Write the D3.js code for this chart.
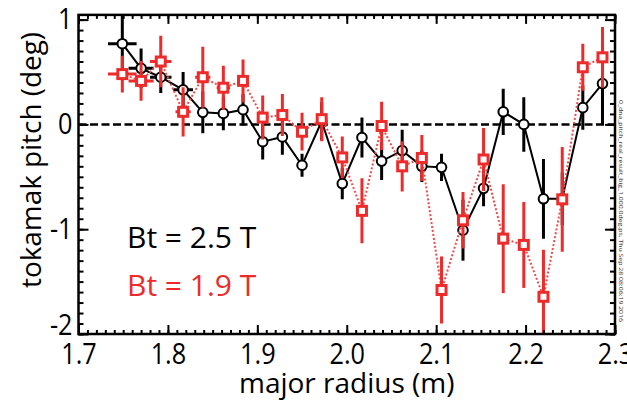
<!DOCTYPE html>
<html>
<head>
<meta charset="utf-8">
<script src="https://cdn.jsdelivr.net/npm/d3@7"></script>
<style>
  body { margin: 0; background: #fff; }
  text { font-family: 'Open Sans', sans-serif; }
</style>
</head>
<body>
<svg width="627" height="403"></svg>
<script>
// major radius of each channel (m)
const radius = [1.749, 1.770, 1.792, 1.817, 1.839, 1.862, 1.884, 1.906, 1.928, 1.950,
  1.972, 1.995, 2.017, 2.039, 2.062, 2.084, 2.106, 2.130, 2.153, 2.175,
  2.198, 2.220, 2.241, 2.264, 2.286]

// Bt = 2.5 T
const pitch25 = [0.77, 0.535, 0.45, 0.33, 0.115, 0.105, 0.14, -0.165, -0.12, -0.39,
  0.03, -0.565, -0.125, -0.35, -0.25, -0.40, -0.41, -1.01, -0.61, 0.12,
  0.0, -0.71, -0.71, 0.16, 0.39]
const err25 = [0.32, 0.19, 0.15, 0.17, 0.20, 0.16, 0.15, 0.17, 0.17, 0.11,
  0.18, 0.15, 0.19, 0.18, 0.20, 0.15, 0.13, 0.29, 0.17, 0.22,
  0.26, 0.38, 0.25, 0.21, 0.39]
const xerr25 = [0.016, 0.014, 0.012, 0.011, 0.005, 0.005, 0.005, 0.005, 0.005, 0.005,
  0.005, 0.005, 0.005, 0.005, 0.005, 0.005, 0.005, 0.005, 0.005, 0.005,
  0.005, 0.005, 0.005, 0.005, 0.005]

// Bt = 1.9 T
const pitch19 = [0.48, 0.415, 0.60, 0.12, 0.45, 0.35, 0.415, 0.065, 0.09, -0.07,
  0.05, -0.315, -0.825, -0.015, -0.40, -0.32, -1.58, -0.915, -0.335, -1.09,
  -1.15, -1.645, -0.715, 0.545, 0.64]
const err19 = [0.175, 0.19, 0.245, 0.235, 0.29, 0.21, 0.205, 0.21, 0.20, 0.18,
  0.21, 0.20, 0.31, 0.23, 0.24, 0.22, 0.32, 0.27, 0.30, 0.52,
  0.41, 0.45, 0.50, 0.225, 0.29]
const xerr19 = [0.016, 0.014, 0.012, 0.0085, 0.0085, 0.0075, 0.0065, 0.006, 0.006, 0.006,
  0.006, 0.006, 0.006, 0.006, 0.006, 0.006, 0.006, 0.006, 0.006, 0.006,
  0.006, 0.006, 0.006, 0.006, 0.006]

const xTicks = [1.7, 1.8, 1.9, 2.0, 2.1, 2.2, 2.3]
const yTicks = [-2, -1, 0, 1]
const legendLabels = ['Bt = 2.5 T', 'Bt = 1.9 T']

const red = '#ee2b2b'

const svg = d3.select('svg')

const x = d3.scaleLinear().domain([1.7, 2.3]).range([78.5, 615])
const y = d3.scaleLinear().domain([-2, 1]).range([334, 19.6])
const yTop = 1.045

const pLeft = x(1.7), pRight = x(2.3), pTop = y(yTop), pBottom = y(-2)

svg.append('clipPath').attr('id', 'clip')
  .append('rect')
  .attr('x', pLeft).attr('y', pTop)
  .attr('width', pRight - pLeft).attr('height', pBottom - pTop)

// zero line
svg.append('line')
  .attr('x1', pLeft).attr('x2', pRight)
  .attr('y1', y(0)).attr('y2', y(0))
  .attr('stroke', 'black')
  .attr('stroke-width', 2.5)
  .attr('stroke-dasharray', '8,3.5')

const plot = svg.append('g').attr('clip-path', 'url(#clip)')

function drawSeries(vals, errs, xerrs, color, dotted) {
  const pts = radius.map((r, i) => ({ r, v: vals[i], e: errs[i], xe: xerrs[i] }))
  const g = plot.append('g')

  g.append('path')
    .datum(pts)
    .attr('d', d3.line().x(d => x(d.r)).y(d => y(d.v)))
    .attr('fill', 'none')
    .attr('stroke', dotted ? '#f24a4a' : 'black')
    .attr('stroke-width', 2)
    .attr('stroke-dasharray', dotted ? '2,2' : null)

  g.selectAll('.ey').data(pts).join('line')
    .attr('x1', d => x(d.r)).attr('x2', d => x(d.r))
    .attr('y1', d => y(d.v - d.e)).attr('y2', d => y(d.v + d.e))
    .attr('stroke', color)
    .attr('stroke-width', 3)

  g.selectAll('.ex').data(pts).join('line')
    .attr('x1', d => x(d.r - d.xe)).attr('x2', d => x(d.r + d.xe))
    .attr('y1', d => y(d.v)).attr('y2', d => y(d.v))
    .attr('stroke', color)
    .attr('stroke-width', 3)

  return g.selectAll('.mk').data(pts)
}

drawSeries(pitch25, err25, xerr25, 'black', false)
  .join('circle')
  .attr('cx', d => x(d.r))
  .attr('cy', d => y(d.v))
  .attr('r', 4.8)
  .attr('fill', 'white')
  .attr('stroke', 'black')
  .attr('stroke-width', 2)

drawSeries(pitch19, err19, xerr19, red, true)
  .join('rect')
  .attr('x', d => x(d.r) - 4.5)
  .attr('y', d => y(d.v) - 4.5)
  .attr('width', 9)
  .attr('height', 9)
  .attr('fill', 'white')
  .attr('stroke', red)
  .attr('stroke-width', 3)

// axes: major and minor ticks on all four sides, pointing inward
const xMinor = d3.range(1.7, 2.3001, 0.01)
const yMinor = d3.range(-2, 1.0001, 0.1)

function tickStyle(g) {
  g.select('.domain').remove()
  g.selectAll('line').attr('stroke', 'black').attr('stroke-width', 2)
  g.selectAll('text')
    .attr('fill', 'black')
    .style('font-family', "'Open Sans', sans-serif")
    .style('font-size', '29px')
    .each(function () {
      // the original tick digits are narrower than Open Sans
      const w = this.getComputedTextLength()
      d3.select(this).attr('textLength', w * 0.87).attr('lengthAdjust', 'spacingAndGlyphs')
    })
}

svg.append('g').attr('transform', `translate(0,${pBottom})`)
  .call(d3.axisBottom(x).tickValues(xMinor).tickSize(-4).tickFormat(''))
  .call(tickStyle)
svg.append('g').attr('transform', `translate(0,${pBottom})`)
  .call(d3.axisBottom(x).tickValues(xTicks).tickSize(-9).tickPadding(9)
    .tickFormat(d => d.toFixed(1)))
  .call(tickStyle)

svg.append('g').attr('transform', `translate(0,${pTop})`)
  .call(d3.axisTop(x).tickValues(xMinor).tickSize(-4).tickFormat(''))
  .call(tickStyle)
svg.append('g').attr('transform', `translate(0,${pTop})`)
  .call(d3.axisTop(x).tickValues(xTicks).tickSize(-9).tickFormat(''))
  .call(tickStyle)

svg.append('g').attr('transform', `translate(${pLeft},0)`)
  .call(d3.axisLeft(y).tickValues(yMinor).tickSize(-5).tickFormat(''))
  .call(tickStyle)
const yAxis = svg.append('g').attr('transform', `translate(${pLeft},0)`)
  .call(d3.axisLeft(y).tickValues(yTicks).tickSize(-10).tickPadding(6)
    .tickFormat(d => String(d)))
  .call(tickStyle)
yAxis.selectAll('.tick')
  .filter(d => d === -2)
  .select('text').attr('dy', '0.0em')

svg.append('g').attr('transform', `translate(${pRight},0)`)
  .call(d3.axisRight(y).tickValues(yMinor).tickSize(-5).tickFormat(''))
  .call(tickStyle)
svg.append('g').attr('transform', `translate(${pRight},0)`)
  .call(d3.axisRight(y).tickValues(yTicks).tickSize(-10).tickFormat(''))
  .call(tickStyle)

// frame
svg.append('rect')
  .attr('x', pLeft).attr('y', pTop)
  .attr('width', pRight - pLeft).attr('height', pBottom - pTop)
  .attr('fill', 'none')
  .attr('stroke', 'black')
  .attr('stroke-width', 2.5)

// axis titles
svg.append('text')
  .attr('x', (pLeft + pRight) / 2)
  .attr('y', 393)
  .attr('text-anchor', 'middle')
  .style('font-size', '28px')
  .text('major radius (m)')

svg.append('text')
  .attr('transform', 'translate(41,160) rotate(-90)')
  .attr('text-anchor', 'middle')
  .attr('textLength', 256)
  .attr('lengthAdjust', 'spacingAndGlyphs')
  .style('font-size', '28px')
  .text('tokamak pitch (deg)')

// legend text
svg.selectAll('.legend').data(legendLabels).join('text')
  .attr('x', 127)
  .attr('y', (d, i) => 248 + i * 47.5)
  .attr('fill', (d, i) => i === 0 ? 'black' : red)
  .style('font-size', '30px')
  .text(d => d)

// file stamp
svg.append('text')
  .attr('transform', 'translate(619,100) rotate(90)')
  .attr('textLength', 222)
  .attr('lengthAdjust', 'spacingAndGlyphs')
  .attr('fill', '#333')
  .style('font-size', '6px')
  .text('0_dna_pitch_real_result_big_1.000.0deg.ps, Thu Sep 28 08:06:19 2016')
</script>
</body>
</html>
